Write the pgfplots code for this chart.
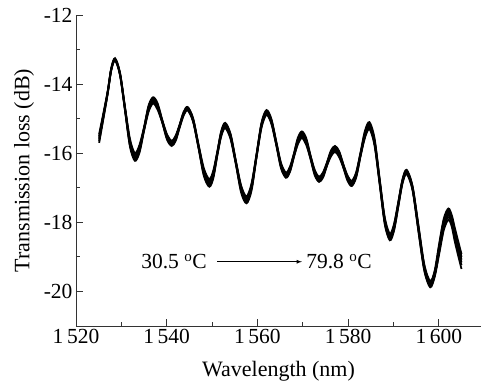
\documentclass[border=0pt]{standalone}
\usepackage{fontspec}
\setmainfont{Liberation Serif}
\usepackage{pgfplots}
\usepackage{pgfplotstable}
\pgfplotsset{compat=1.18}
\pgfplotstableread{
x a b c d e f
1525.1 -15.45 -15.50 -15.55 -15.60 -15.65 -15.70
1526.9 -14.27 -14.29 -14.30 -14.31 -14.33 -14.35
1527.75 -13.55 -13.57 -13.58 -13.59 -13.60 -13.62
1528.6 -13.25 -13.27 -13.28 -13.29 -13.30 -13.32
1529.7 -13.67 -13.69 -13.70 -13.71 -13.72 -13.74
1530.8 -14.66 -14.68 -14.70 -14.72 -14.74 -14.76
1531.9 -15.59 -15.64 -15.69 -15.73 -15.77 -15.81
1533.0 -16.00 -16.05 -16.10 -16.14 -16.18 -16.22
1534.0 -15.76 -15.81 -15.86 -15.90 -15.94 -15.98
1535.0 -15.25 -15.27 -15.29 -15.31 -15.33 -15.35
1536.0 -14.62 -14.66 -14.70 -14.73 -14.76 -14.80
1537.0 -14.38 -14.42 -14.46 -14.49 -14.52 -14.56
1538.0 -14.56 -14.60 -14.64 -14.67 -14.70 -14.74
1539.05 -15.05 -15.07 -15.08 -15.10 -15.11 -15.13
1540.08 -15.46 -15.49 -15.52 -15.55 -15.58 -15.61
1541.1 -15.64 -15.67 -15.70 -15.73 -15.76 -15.79
1541.98 -15.49 -15.52 -15.55 -15.58 -15.61 -15.64
1542.85 -15.17 -15.19 -15.20 -15.22 -15.24 -15.26
1543.72 -14.81 -14.83 -14.85 -14.87 -14.89 -14.91
1544.6 -14.66 -14.68 -14.70 -14.72 -14.74 -14.76
1545.8 -14.98 -15.00 -15.02 -15.04 -15.06 -15.08
1547.0 -15.74 -15.76 -15.78 -15.80 -15.82 -15.84
1548.2 -16.44 -16.49 -16.54 -16.58 -16.62 -16.66
1549.4 -16.75 -16.80 -16.85 -16.89 -16.93 -16.97
1550.28 -16.50 -16.55 -16.60 -16.64 -16.68 -16.72
1551.15 -15.96 -15.98 -16.00 -16.03 -16.05 -16.07
1552.02 -15.36 -15.39 -15.42 -15.45 -15.48 -15.51
1552.9 -15.12 -15.15 -15.18 -15.21 -15.24 -15.27
1554.08 -15.44 -15.47 -15.50 -15.53 -15.56 -15.59
1555.25 -16.22 -16.24 -16.26 -16.28 -16.30 -16.32
1556.42 -16.94 -16.98 -17.02 -17.06 -17.10 -17.14
1557.6 -17.25 -17.29 -17.33 -17.37 -17.41 -17.45
1558.7 -16.88 -16.92 -16.96 -17.00 -17.04 -17.08
1559.8 -16.03 -16.05 -16.07 -16.09 -16.11 -16.13
1560.9 -15.12 -15.15 -15.17 -15.20 -15.23 -15.26
1562.0 -14.75 -14.78 -14.80 -14.83 -14.86 -14.89
1563.08 -15.01 -15.04 -15.06 -15.09 -15.12 -15.15
1564.15 -15.66 -15.68 -15.70 -15.72 -15.74 -15.76
1565.22 -16.29 -16.32 -16.35 -16.38 -16.41 -16.44
1566.3 -16.56 -16.59 -16.62 -16.65 -16.68 -16.71
1567.18 -16.39 -16.42 -16.45 -16.48 -16.51 -16.54
1568.05 -16.01 -16.03 -16.05 -16.07 -16.09 -16.11
1568.92 -15.55 -15.59 -15.63 -15.67 -15.70 -15.74
1569.8 -15.37 -15.41 -15.45 -15.49 -15.52 -15.56
1570.75 -15.56 -15.60 -15.64 -15.68 -15.71 -15.75
1571.7 -16.06 -16.08 -16.10 -16.12 -16.14 -16.16
1572.65 -16.49 -16.52 -16.55 -16.58 -16.61 -16.64
1573.6 -16.68 -16.71 -16.74 -16.77 -16.80 -16.83
1574.48 -16.55 -16.58 -16.61 -16.64 -16.67 -16.70
1575.35 -16.26 -16.28 -16.30 -16.32 -16.34 -16.36
1576.22 -15.92 -15.95 -15.99 -16.02 -16.05 -16.09
1577.1 -15.79 -15.82 -15.86 -15.89 -15.92 -15.96
1578.02 -15.94 -15.97 -16.01 -16.04 -16.07 -16.11
1578.95 -16.32 -16.34 -16.36 -16.38 -16.40 -16.42
1579.88 -16.65 -16.68 -16.71 -16.74 -16.77 -16.80
1580.8 -16.80 -16.83 -16.86 -16.89 -16.92 -16.95
1581.78 -16.55 -16.58 -16.61 -16.64 -16.67 -16.70
1582.75 -15.97 -15.99 -16.02 -16.04 -16.06 -16.08
1583.72 -15.35 -15.39 -15.43 -15.47 -15.51 -15.55
1584.7 -15.10 -15.14 -15.18 -15.22 -15.26 -15.30
1585.82 -15.57 -15.61 -15.65 -15.69 -15.73 -15.77
1586.95 -16.74 -16.77 -16.80 -16.83 -16.86 -16.89
1588.08 -17.86 -17.90 -17.94 -17.98 -18.02 -18.05
1589.2 -18.33 -18.37 -18.41 -18.45 -18.49 -18.52
1590.12 -18.05 -18.09 -18.13 -18.17 -18.21 -18.24
1591.05 -17.42 -17.45 -17.47 -17.50 -17.53 -17.56
1591.98 -16.76 -16.78 -16.81 -16.83 -16.85 -16.88
1592.9 -16.48 -16.50 -16.53 -16.55 -16.57 -16.60
1594.2 -16.95 -16.97 -17.00 -17.02 -17.04 -17.07
1595.5 -18.08 -18.12 -18.15 -18.19 -18.22 -18.26
1596.8 -19.22 -19.26 -19.30 -19.34 -19.37 -19.40
1598.1 -19.70 -19.74 -19.78 -19.82 -19.85 -19.88
1599.1 -19.39 -19.43 -19.47 -19.51 -19.54 -19.57
1600.1 -18.60 -18.66 -18.72 -18.78 -18.84 -18.90
1601.1 -17.89 -17.95 -18.01 -18.07 -18.14 -18.22
1602.1 -17.60 -17.66 -17.72 -17.78 -17.85 -17.93
1602.85 -17.79 -17.85 -17.91 -17.97 -18.04 -18.12
1603.6 -18.20 -18.28 -18.36 -18.44 -18.52 -18.60
1605.0 -18.92 -19.00 -19.08 -19.16 -19.24 -19.35
}\spectra
\begin{document}
\begin{tikzpicture}
\begin{axis}[
  scale only axis,
  width=405pt, height=311pt,
  xmin=1520, xmax=1609.3,
  ymin=-21, ymax=-12,
  axis lines*=left,
  axis line style={-, line width=0.9pt, draw=black!80},
  tick align=inside,
  major tick length=7pt,
  minor tick length=4pt,
  tick style={line width=0.8pt, draw=black!80},
  xtick={1520,1540,1560,1580,1600},
  xticklabels={1\,520,1\,540,1\,560,1\,580,1\,600},
  minor x tick num=1,
  ytick={-20,-18,-16,-14,-12},
  yticklabels={-20,-18,-16,-14,-12},
  minor y tick num=1,
  tick label style={font=\fontsize{21.5}{25}\selectfont},
  label style={font=\fontsize{22}{26}\selectfont},
  xlabel={Wavelength (nm)},
  ylabel={Transmission loss (dB)},
  xlabel style={yshift=-10pt},
  ylabel style={yshift=3pt},
  clip=false,
]
\foreach \c in {a,b,c,d,e,f}{
  \addplot[black, line width=1.8pt, smooth] table[x=x, y=\c] {\spectra};
}
\node[anchor=east, font=\fontsize{21.5}{25}\selectfont] at (axis cs:1549.6,-19.14) {30.5 \textsuperscript{o}C};
\draw[-latex, line width=0.8pt] (axis cs:1551.1,-19.14) -- (axis cs:1569.8,-19.14);
\node[anchor=west, font=\fontsize{21.5}{25}\selectfont] at (axis cs:1570.0,-19.14) {79.8 \textsuperscript{o}C};
\end{axis}
\path ([xshift=-76pt,yshift=-59pt]current axis.south west) rectangle ([xshift=2pt,yshift=15pt]current axis.north east);
\end{tikzpicture}
\end{document}
